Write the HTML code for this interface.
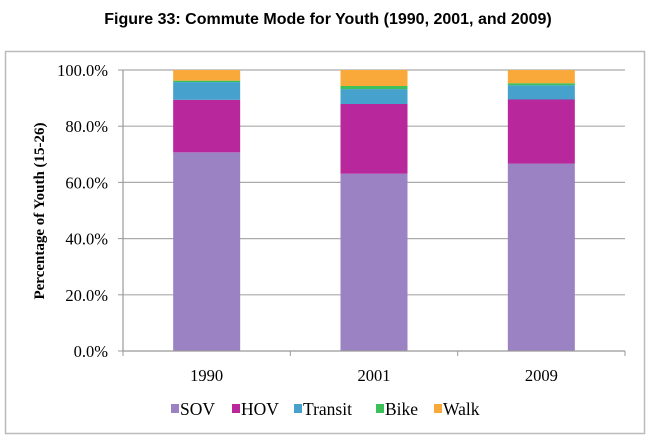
<!DOCTYPE html>
<html><head><meta charset="utf-8"><style>
body{margin:0;background:#fff;width:657px;height:439px;overflow:hidden}
</style></head><body>
<svg width="657" height="439" xmlns="http://www.w3.org/2000/svg">
<text x="328" y="24" text-anchor="middle" font-family="Liberation Sans, sans-serif" font-weight="bold" font-size="16">Figure 33: Commute Mode for Youth (1990, 2001, and 2009)</text>
<rect x="5.5" y="51.5" width="639" height="382" fill="none" stroke="#bbb" stroke-width="1.5"/>
<g id="grid"></g><g id="bars"></g><g id="axes"></g><g id="legend"></g>
<text transform="translate(44,211) rotate(-90)" text-anchor="middle" font-family="Liberation Serif, serif" font-weight="bold" font-size="15">Percentage of Youth (15-26)</text>
</svg>
<script>
const categories=["1990","2001","2009"];
const seriesNames=["SOV","HOV","Transit","Bike","Walk"];
const sov=[70.7,63.1,66.7];
const hov=[18.7,24.8,22.8];
const transit=[6.3,5.3,5.1];
const bike=[0.5,1.1,0.7];
const walk=[3.8,5.7,4.7];
const yTicks=[0,20,40,60,80,100];
const colors=["#9b82c2","#b8279b","#46a1cc","#3dbf5a","#f9a93a"];
const NS="http://www.w3.org/2000/svg";
const L=123,R=625,T=70,B=351;
const y=v=>B-(v/100)*(B-T);
const bw=(R-L)/categories.length;
const x=i=>L+bw*(i+0.5);
function mk(t,a,p){const e=document.createElementNS(NS,t);for(const k in a)e.setAttribute(k,a[k]);p.appendChild(e);return e;}
const grid=document.getElementById('grid'),bars=document.getElementById('bars'),axes=document.getElementById('axes'),leg=document.getElementById('legend');
yTicks.forEach(t=>{
 if(t>0){const g=mk('line',{x1:L,x2:R,y1:y(t),y2:y(t),stroke:'#aaa','stroke-width':1.2},grid);
 
 }
 const tk=mk('line',{x1:L-5,x2:L,y1:y(t),y2:y(t),stroke:'#999'},axes);
 
 
 const tx=mk('text',{x:L-15,y:y(t)+6,'text-anchor':'end','font-family':'Liberation Serif, serif','font-size':'16.5'},axes);
 tx.textContent=t.toFixed(1)+'%';
 
 
});
const series=[sov,hov,transit,bike,walk];
categories.forEach((c,i)=>{
 let acc=0;
 series.forEach((s,j)=>{
  const r=mk('rect',{x:x(i)-33.5,width:67,y:y(acc+s[i]),height:y(acc)-y(acc+s[i]),fill:colors[j]},bars);
  
  
  acc+=s[i];
 });
 const tx=mk('text',{x:x(i),y:381,'text-anchor':'middle','font-family':'Liberation Serif, serif','font-size':'16.5'},axes);
 tx.textContent=c;
 
 
});
for(let i=0;i<=categories.length;i++){
 const tk=mk('line',{x1:L+bw*i,x2:L+bw*i,y1:B,y2:B+5,stroke:'#999'},axes);
 
 
}
const ax=mk('line',{x1:L,x2:L,y1:T,y2:B,stroke:'#999','stroke-width':1.2},axes);


const bx=mk('line',{x1:L,x2:R,y1:B,y2:B,stroke:'#999','stroke-width':1.2},axes);


const lx=[171,232,294,376,434];
seriesNames.forEach((n,j)=>{
 const g=mk('g',{},leg);
 
 
 mk('rect',{x:lx[j],y:404,width:8,height:9,fill:colors[j]},g);
 const t=mk('text',{x:lx[j]+9,y:415,'font-family':'Liberation Serif, serif','font-size':'17.5'},g);
 t.textContent=n;
});
</script>
</body></html>
